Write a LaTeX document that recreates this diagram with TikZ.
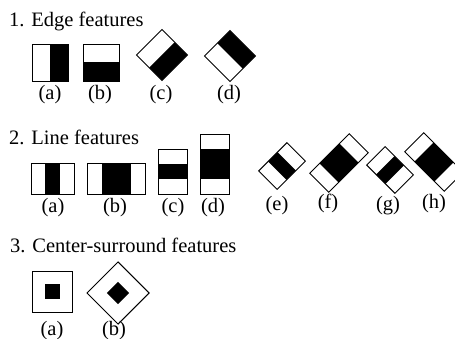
\documentclass[tikz,border=0pt]{standalone}
\usepackage{fontspec}
\setmainfont{Liberation Serif}

\tikzset{
	box/.style={draw=black, line width=0.9pt},
	dark/.style={fill=black},
	lbl/.style={anchor=base, inner sep=0pt, font=\fontsize{20.5}{24}\selectfont},
	ttl/.style={anchor=base west, inner sep=0pt, font=\fontsize{20.5}{24}\selectfont}
}

\begin{document}
\begin{tikzpicture}[x=1pt, y=-1pt]
			\useasboundingbox (0,0) rectangle (455,339);
			
			%%%%% EDGE FEATURES %%%%%
			
			\node[ttl] (edgeTitle) at (9, 26.5) {1. Edge features};
			
			\fill[dark] (50, 44) rectangle (68, 81);
			\draw[box] (32, 44) rectangle (68, 81);
			
			\fill[dark] (83, 62.5) rectangle (119, 81);
			\draw[box] (83, 44) rectangle (119, 81);
			
			\begin{scope}[shift={(162, 55)}, rotate=-45]
				\fill[dark] (0, -18) rectangle (18, 18);
				\draw[box] (-18, -18) rectangle (18, 18);
			\end{scope}
			
			\begin{scope}[shift={(230, 56)}, rotate=45]
				\fill[dark] (0, -18) rectangle (18, 18);
				\draw[box] (-18, -18) rectangle (18, 18);
			\end{scope}
			
			\node[lbl] (edgeA) at (50, 100) {(a)};
			\node[lbl] (edgeB) at (100, 100) {(b)};
			\node[lbl] (edgeC) at (161, 100) {(c)};
			\node[lbl] (edgeD) at (229, 100) {(d)};
			
			%%%%% LINE FEATURES %%%%%
			
			\node[ttl] (lineTitle) at (9, 145) {2. Line features};
			
			\fill[dark] (45.3, 163) rectangle (59.7, 194);
			\draw[box] (31, 163) rectangle (74, 194);
			
			\fill[dark] (101.5, 163) rectangle (130.5, 194);
			\draw[box] (87, 163) rectangle (145, 194);
			
			\fill[dark] (158, 164) rectangle (187, 179);
			\draw[box] (158, 149) rectangle (187, 194);
			
			\fill[dark] (200, 149) rectangle (229, 179);
			\draw[box] (200, 134) rectangle (229, 194);
			
			\begin{scope}[shift={(282, 166)}, rotate=45]
				\fill[dark] (-6.7, -13) rectangle (6.7, 13);
				\draw[box] (-20, -13) rectangle (20, 13);
			\end{scope}
			
			\begin{scope}[shift={(339, 163)}, rotate=45]
				\fill[dark] (-14, -13.5) rectangle (14, 13.5);
				\draw[box] (-28, -13.5) rectangle (28, 13.5);
			\end{scope}
			
			\begin{scope}[shift={(390, 170)}, rotate=-45]
				\fill[dark] (-6.7, -13) rectangle (6.7, 13);
				\draw[box] (-20, -13) rectangle (20, 13);
			\end{scope}
			
			\begin{scope}[shift={(434, 162)}, rotate=-45]
				\fill[dark] (-14, -13.5) rectangle (14, 13.5);
				\draw[box] (-28, -13.5) rectangle (28, 13.5);
			\end{scope}
			
			\node[lbl] (lineA) at (53, 213) {(a)};
			\node[lbl] (lineB) at (115, 213) {(b)};
			\node[lbl] (lineC) at (173, 213) {(c)};
			\node[lbl] (lineD) at (213, 213) {(d)};
			\node[lbl] (lineE) at (277, 211) {(e)};
			\node[lbl] (lineF) at (328, 209) {(f)};
			\node[lbl] (lineG) at (388, 211) {(g)};
			\node[lbl] (lineH) at (434, 209) {(h)};
			
			%%%%% CENTER-SURROUND FEATURES %%%%%
			
			\node[ttl] (centerTitle) at (10, 252) {3. Center-surround features};
			
			\draw[box] (32, 271) rectangle (72, 312);
			\fill[dark] (44.5, 284) rectangle (59.5, 299);
			
			\begin{scope}[shift={(118, 293)}, rotate=45]
				\draw[box] (-22, -22) rectangle (22, 22);
				\fill[dark] (-7.8, -7.8) rectangle (7.8, 7.8);
			\end{scope}
			
			\node[lbl] (centerA) at (52, 335) {(a)};
			\node[lbl] (centerB) at (114, 335) {(b)};
			
			%%%%% END %%%%%
\end{tikzpicture}
\end{document}
